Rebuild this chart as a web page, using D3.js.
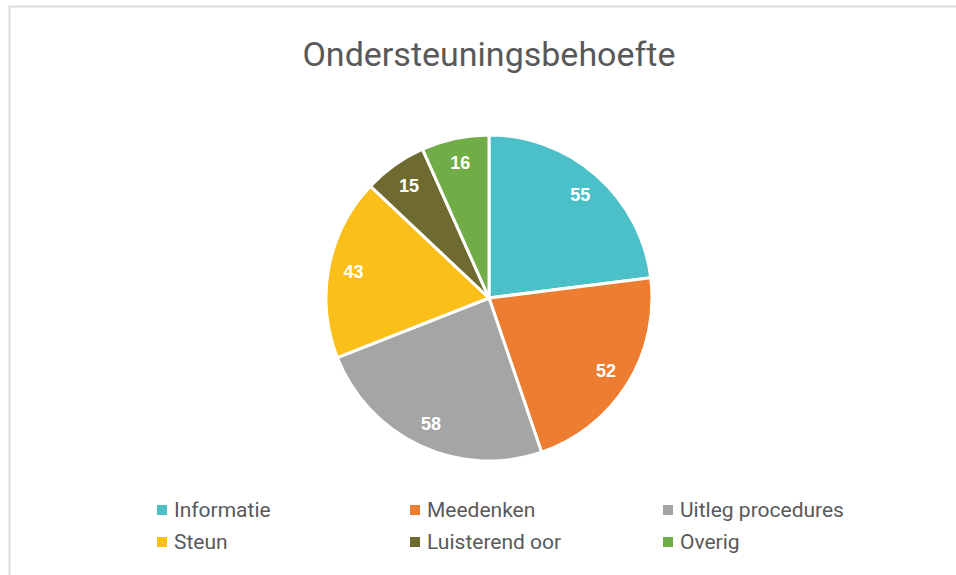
<!DOCTYPE html>
<html>
<head>
<meta charset="utf-8">
<script src="https://cdn.jsdelivr.net/npm/d3@7"></script>
<style>
body { margin: 0; background: #fff; }
svg { display: block; }
</style>
</head>
<body>
<svg width="956" height="575"></svg>
<script>
var categories = ["Informatie", "Meedenken", "Uitleg procedures", "Steun", "Luisterend oor", "Overig"];
var values = [55, 52, 58, 43, 15, 16];
var colors = ["#4BC0C8", "#ED7D31", "#A5A5A5", "#FBBF1A", "#6F6B30", "#70AD47"];

var svg = d3.select("svg"),
	cx = 489,
	cy = 298,
	radius = 163;

// frame
svg.append("rect")
	.attr("x", 9.5)
	.attr("y", 6.5)
	.attr("width", 970)
	.attr("height", 600)
	.attr("fill", "#fff")
	.attr("stroke", "#dcdcdc")
	.attr("stroke-width", 2);

svg.append("text")
	.attr("x", cx)
	.attr("y", 66)
	.attr("text-anchor", "middle")
	.attr("font-family", "Roboto, sans-serif")
	.attr("font-size", 34)
	.attr("fill", "#595959")
	.text("Ondersteuningsbehoefte");

var data = categories.map(function (c, i) {
	return { name: c, value: values[i] };
});

var z = d3.scaleOrdinal().domain(categories).range(colors);

var pie = d3.pie()
	.sort(null)
	.value(function (d) { return d.value; });

var arc = d3.arc().innerRadius(0).outerRadius(radius);
var labelArc = d3.arc().innerRadius(138).outerRadius(138);

var g = svg.append("g").attr("transform", "translate(" + cx + "," + cy + ")");

var slices = g.selectAll("g")
	.data(pie(data))
	.enter().append("g");

slices.append("path")
	.attr("d", arc)
	.attr("fill", function (d) { return z(d.data.name); })
	.attr("stroke", "#fff")
	.attr("stroke-width", 3)
	.attr("stroke-linejoin", "round");

slices.append("text")
	.attr("transform", function (d) { return "translate(" + labelArc.centroid(d) + ")"; })
	.attr("dy", "0.35em")
	.attr("text-anchor", "middle")
	.attr("font-family", "Liberation Sans, Arial, sans-serif")
	.attr("font-weight", "bold")
	.attr("font-size", 18)
	.attr("fill", "#fff")
	.text(function (d) { return d.data.value; });

// legend: 3 columns, 2 rows
var legend = svg.append("g")
	.attr("font-family", "Roboto, sans-serif")
	.attr("font-size", 21)
	.attr("fill", "#595959")
	.selectAll("g")
	.data(categories)
	.enter().append("g")
	.attr("transform", function (d, i) {
		return "translate(" + (157 + (i % 3) * 253) + "," + (510 + Math.floor(i / 3) * 32) + ")";
	});

legend.append("rect")
	.attr("x", 0)
	.attr("y", -5)
	.attr("width", 10)
	.attr("height", 10)
	.attr("fill", z);

legend.append("text")
	.attr("x", 17)
	.attr("dy", "0.35em")
	.text(function (d) { return d; });
</script>
</body>
</html>
